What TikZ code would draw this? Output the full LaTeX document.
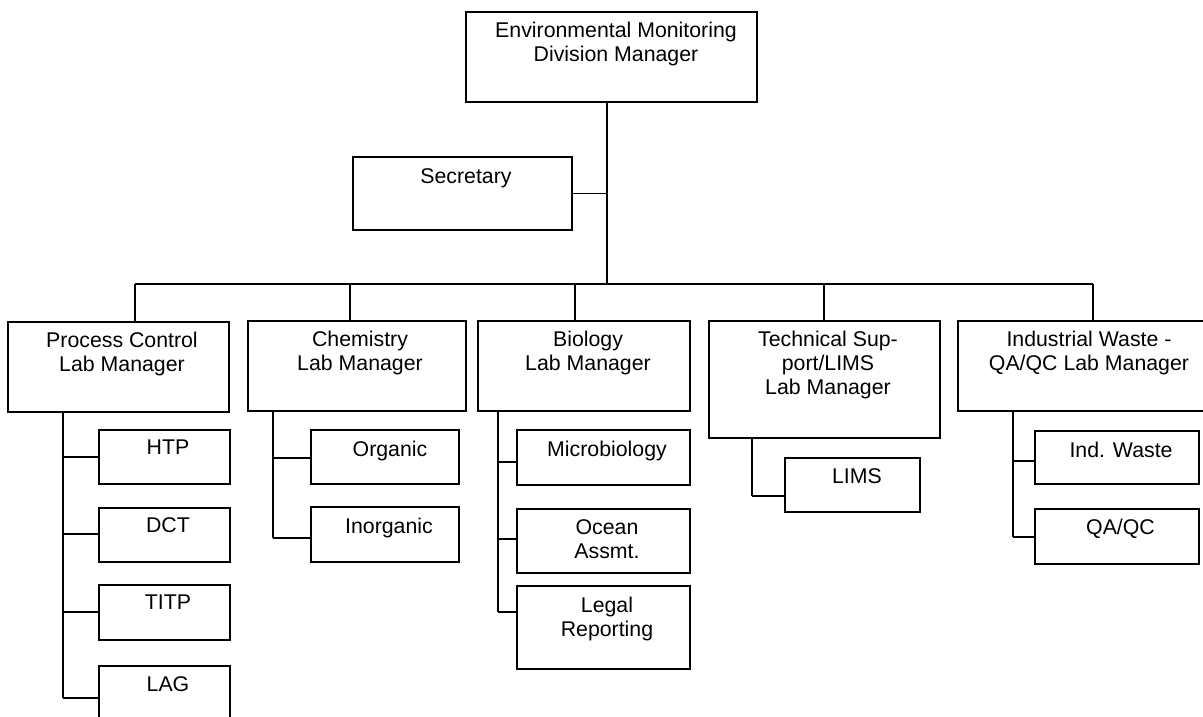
\documentclass[tikz,border=0pt]{standalone}
\usepackage{fontspec}
\setmainfont{Liberation Sans}
\begin{document}
\begin{tikzpicture}[x=1pt,y=-1pt,
  box/.style={draw=black, line width=1.3pt, rectangle, inner sep=0pt, outer sep=0pt, anchor=north west},
  txt/.style={anchor=north, inner sep=0pt, align=center, font=\fontsize{21.3}{24}\selectfont},
  link/.style={draw=black, line width=1.3pt}]
\useasboundingbox (0,0) rectangle (1203,717);
\clip (0,0) rectangle (1203,717);

% top level
\node[box, minimum width=291pt, minimum height=90pt] (top) at (466,12) {};
\node[txt] at (616,22) {Environmental Monitoring\\Division Manager};
\node[box, minimum width=219pt, minimum height=73pt] (sec) at (353,157) {};
\node[txt] at (466,168) {Secretary};

% lab managers
\node[box, minimum width=221pt, minimum height=90pt] (pc) at (8,322) {};
\node[txt] at (122,332) {Process Control\\Lab Manager};
\node[box, minimum width=218pt, minimum height=90pt] (chem) at (248,321) {};
\node[txt] at (360,331) {Chemistry\\Lab Manager};
\node[box, minimum width=212pt, minimum height=90pt] (bio) at (478,321) {};
\node[txt] at (588,331) {Biology\\Lab Manager};
\node[box, minimum width=231pt, minimum height=117pt] (tech) at (709,321) {};
\node[txt] at (828,331) {Technical Sup-\\port/LIMS\\Lab Manager};
\node[box, minimum width=260pt, minimum height=90pt] (ind) at (958,321) {};
\node[txt] at (1089,331) {Industrial Waste -\\QA/QC Lab Manager};

% process control sections
\node[box, minimum width=131pt, minimum height=54pt] (htp) at (99,430) {};
\node[txt] at (168,440) {HTP};
\node[box, minimum width=131pt, minimum height=54pt] (dct) at (99,508) {};
\node[txt] at (168,517) {DCT};
\node[box, minimum width=131pt, minimum height=55pt] (titp) at (99,585) {};
\node[txt] at (168,595) {TITP};
\node[box, minimum width=131pt, minimum height=64pt] (lag) at (99,666) {};
\node[txt] at (168,676) {LAG};

% chemistry sections
\node[box, minimum width=148pt, minimum height=54pt] (org) at (311,430) {};
\node[txt] at (390,441) {Organic};
\node[box, minimum width=148pt, minimum height=55pt] (inorg) at (311,507) {};
\node[txt] at (389,518) {Inorganic};

% biology sections
\node[box, minimum width=173pt, minimum height=55pt] (micro) at (517,430) {};
\node[txt] at (607,441) {Microbiology};
\node[box, minimum width=173pt, minimum height=64pt] (ocean) at (517,509) {};
\node[txt] at (607,519) {Ocean\\Assmt.};
\node[box, minimum width=173pt, minimum height=83pt] (legal) at (517,586) {};
\node[txt] at (607,597) {Legal\\Reporting};

% technical support section
\node[box, minimum width=135pt, minimum height=54pt] (lims) at (785,458) {};
\node[txt] at (857,468) {LIMS};

% industrial waste sections
\node[box, minimum width=164pt, minimum height=53pt] (iw) at (1035,431) {};
\node[txt] at (1121,442) {Ind. Waste};
\node[box, minimum width=164pt, minimum height=55pt] (qa) at (1035,509) {};
\node[txt] at (1120.5,519) {QA/QC};

% main trunk and distribution bar
\coordinate (j) at (607,284);
\coordinate (s1) at (135,284);
\coordinate (s2) at (350,284);
\coordinate (s3) at (575,284);
\coordinate (s4) at (824,284);
\coordinate (s5) at (1093,284);
\draw[link] (top.south -| j) -- (j);
\draw[link] (sec.east) -- (sec.east -| j);
\draw[link] (s1) -- (s5);
\draw[link] (s1) -- (pc.north -| s1);
\draw[link] (s2) -- (chem.north -| s2);
\draw[link] (s3) -- (bio.north -| s3);
\draw[link] (s4) -- (tech.north -| s4);
\draw[link] (s5) -- (ind.north -| s5);

% process control branch
\coordinate (p1) at (63,457);
\coordinate (p2) at (63,534);
\coordinate (p3) at (63,612);
\coordinate (p4) at (63,698);
\draw[link] (pc.south -| p1) -- (p4);
\draw[link] (p1) -- (p1 -| htp.west);
\draw[link] (p2) -- (p2 -| dct.west);
\draw[link] (p3) -- (p3 -| titp.west);
\draw[link] (p4) -- (p4 -| lag.west);

% chemistry branch
\coordinate (c1) at (273,458);
\coordinate (c2) at (273,538);
\draw[link] (chem.south -| c1) -- (c2);
\draw[link] (c1) -- (c1 -| org.west);
\draw[link] (c2) -- (c2 -| inorg.west);

% biology branch
\coordinate (b1) at (498,462);
\coordinate (b2) at (498,539);
\coordinate (b3) at (498,612);
\draw[link] (bio.south -| b1) -- (b3);
\draw[link] (b1) -- (b1 -| micro.west);
\draw[link] (b2) -- (b2 -| ocean.west);
\draw[link] (b3) -- (b3 -| legal.west);

% technical support branch
\coordinate (t1) at (752,496);
\draw[link] (tech.south -| t1) -- (t1);
\draw[link] (t1) -- (t1 -| lims.west);

% industrial waste branch
\coordinate (i1) at (1013,461);
\coordinate (i2) at (1013,537);
\draw[link] (ind.south -| i1) -- (i2);
\draw[link] (i1) -- (i1 -| iw.west);
\draw[link] (i2) -- (i2 -| qa.west);
\end{tikzpicture}
\end{document}
